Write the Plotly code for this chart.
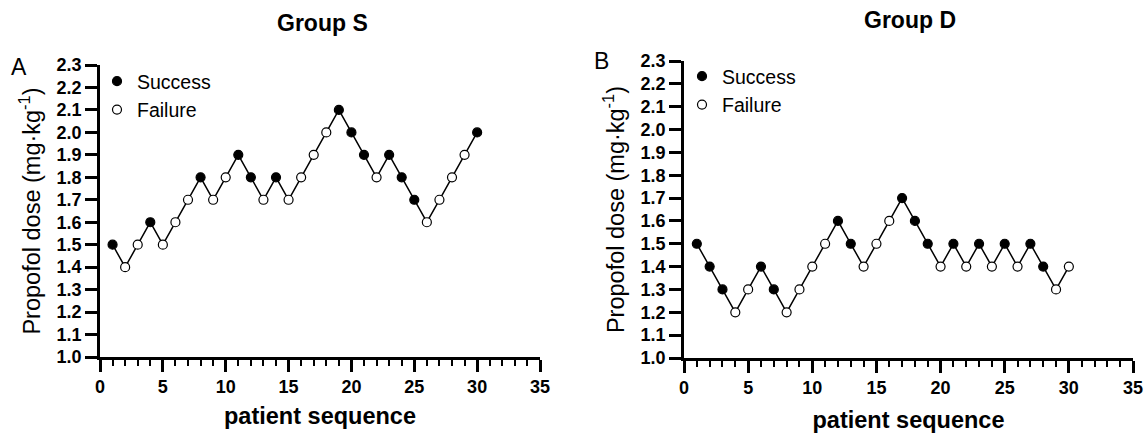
import plotly.graph_objects as go

# ---- data ----
seq = list(range(1, 31))
dose_S = [1.5, 1.4, 1.5, 1.6, 1.5, 1.6, 1.7, 1.8, 1.7, 1.8,
          1.9, 1.8, 1.7, 1.8, 1.7, 1.8, 1.9, 2.0, 2.1, 2.0,
          1.9, 1.8, 1.9, 1.8, 1.7, 1.6, 1.7, 1.8, 1.9, 2.0]
outcome_S = ["S", "F", "F", "S", "F", "F", "F", "S", "F", "F",
             "S", "S", "F", "S", "F", "F", "F", "F", "S", "S",
             "S", "F", "S", "S", "S", "F", "F", "F", "F", "S"]
dose_D = [1.5, 1.4, 1.3, 1.2, 1.3, 1.4, 1.3, 1.2, 1.3, 1.4,
          1.5, 1.6, 1.5, 1.4, 1.5, 1.6, 1.7, 1.6, 1.5, 1.4,
          1.5, 1.4, 1.5, 1.4, 1.5, 1.4, 1.5, 1.4, 1.3, 1.4]
outcome_D = ["S", "S", "S", "F", "F", "S", "S", "F", "F", "F",
             "F", "S", "S", "F", "F", "F", "S", "S", "S", "F",
             "S", "F", "S", "F", "S", "F", "S", "S", "F", "F"]
y_ticks = [1.0, 1.1, 1.2, 1.3, 1.4, 1.5, 1.6, 1.7, 1.8, 1.9, 2.0, 2.1, 2.2, 2.3]
x_ticks = [0, 5, 10, 15, 20, 25, 30, 35]

FONT = "Arial, 'Liberation Sans', sans-serif"
W, H = 1148, 433

fig = go.Figure()

panels = [
    (dose_S, outcome_S, "x", "y", "legend"),
    (dose_D, outcome_D, "x2", "y2", "legend2"),
]
for dose, outc, xa, ya, lg in panels:
    fig.add_trace(go.Scatter(x=seq, y=dose, mode="lines", xaxis=xa, yaxis=ya,
                             line=dict(color="black", width=1.5),
                             showlegend=False, hoverinfo="skip", cliponaxis=False))
    xs = [s for s, o in zip(seq, outc) if o == "S"]
    ys = [d for d, o in zip(dose, outc) if o == "S"]
    xf = [s for s, o in zip(seq, outc) if o == "F"]
    yf = [d for d, o in zip(dose, outc) if o == "F"]
    fig.add_trace(go.Scatter(x=xs, y=ys, mode="markers", name="Success", xaxis=xa, yaxis=ya,
                             marker=dict(symbol="circle", size=9, color="black",
                                         line=dict(color="black", width=1.2)),
                             legend=lg, cliponaxis=False))
    fig.add_trace(go.Scatter(x=xf, y=yf, mode="markers", name="Failure", xaxis=xa, yaxis=ya,
                             marker=dict(symbol="circle", size=9, color="white",
                                         line=dict(color="black", width=1.2)),
                             legend=lg, cliponaxis=False))

def xaxis(domain, anchor, standoff):
    return dict(domain=domain, anchor=anchor, range=[0, 35],
                tickvals=x_ticks, ticks="outside", ticklen=12, tickwidth=2.5, tickcolor="black",
                showline=True, linewidth=2.5, linecolor="black", showgrid=False, zeroline=False,
                minor=dict(dtick=1, tick0=0, ticks="outside", ticklen=6, tickwidth=2, tickcolor="black", showgrid=False),
                tickfont=dict(family=FONT, size=18, color="black", weight="bold"),
                title=dict(text="<b>patient sequence</b>", font=dict(family=FONT, size=23.5, color="black"),
                           standoff=standoff),
                automargin=False, fixedrange=True)

def yaxis(domain, anchor, standoff):
    return dict(domain=domain, anchor=anchor, range=[1.0, 2.3],
                tickvals=y_ticks, tickformat=".1f", ticks="outside", ticklen=12, tickwidth=2.5,
                tickcolor="black", showline=True, linewidth=2.5, linecolor="black",
                showgrid=False, zeroline=False,
                tickfont=dict(family=FONT, size=18, color="black", weight="bold"),
                title=dict(text="Propofol dose (mg·kg<sup>-1</sup>)",
                           font=dict(family=FONT, size=23.5, color="black"), standoff=standoff),
                automargin=False, fixedrange=True)

fig.update_layout(
    width=W, height=H,
    margin=dict(l=0, r=0, t=0, b=0),
    paper_bgcolor="white", plot_bgcolor="white",
    font=dict(family=FONT, color="black"),
    xaxis=xaxis([100 / W, 540 / W], "y", 12),
    yaxis=yaxis([(H - 357) / H, (H - 65) / H], "x", 10),
    xaxis2=xaxis([684 / W, 1133 / W], "y2", 16),
    yaxis2=yaxis([(H - 358) / H, (H - 61) / H], "x2", 10),
    legend=dict(x=97 / W, y=(H - 62) / H, xanchor="left", yanchor="top",
                font=dict(family=FONT, size=19.5, color="black"), bgcolor="rgba(0,0,0,0)",
                itemwidth=30, tracegroupgap=0),
    legend2=dict(x=682 / W, y=(H - 57) / H, xanchor="left", yanchor="top",
                 font=dict(family=FONT, size=19.5, color="black"), bgcolor="rgba(0,0,0,0)",
                 itemwidth=30, tracegroupgap=0),
    annotations=[
        dict(text="<b>Group S</b>", x=322 / W, y=(H - 23) / H, xref="paper", yref="paper",
             showarrow=False, font=dict(family=FONT, size=23, color="black"),
             xanchor="center", yanchor="middle"),
        dict(text="<b>Group D</b>", x=910 / W, y=(H - 20) / H, xref="paper", yref="paper",
             showarrow=False, font=dict(family=FONT, size=23, color="black"),
             xanchor="center", yanchor="middle"),
        dict(text="A", x=19 / W, y=(H - 67) / H, xref="paper", yref="paper",
             showarrow=False, font=dict(family=FONT, size=23, color="black"),
             xanchor="center", yanchor="middle"),
        dict(text="B", x=601 / W, y=(H - 61) / H, xref="paper", yref="paper",
             showarrow=False, font=dict(family=FONT, size=23, color="black"),
             xanchor="center", yanchor="middle"),
    ],
)

fig.write_html("out.html")
